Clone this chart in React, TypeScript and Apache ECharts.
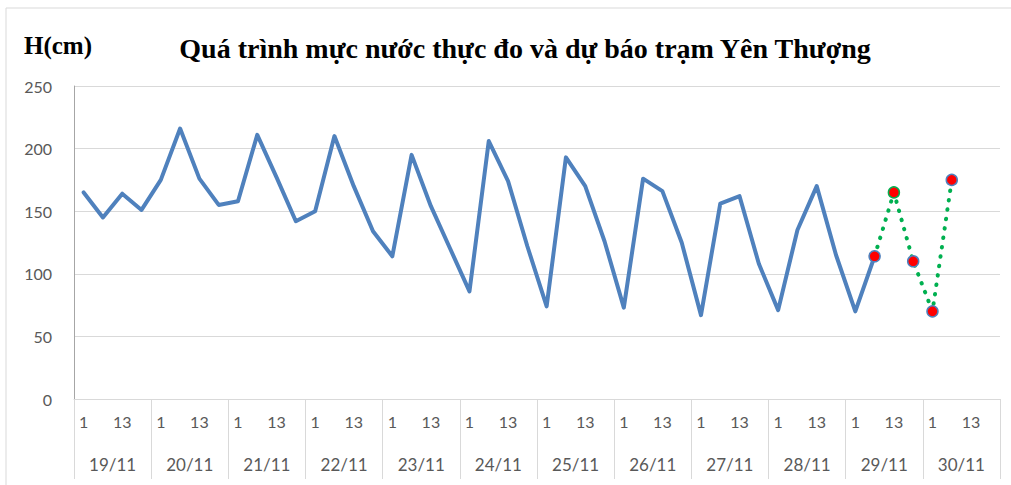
import React, { useEffect, useRef } from "react";
import * as echarts from "echarts";

const days = ["19/11", "20/11", "21/11", "22/11", "23/11", "24/11", "25/11", "26/11", "27/11", "28/11", "29/11", "30/11"];
const hours = ["1", "7", "13", "19"];
const observed = [
  165, 145, 164, 151,
  175, 216, 176, 155,
  158, 211, 177, 142,
  150, 210, 170, 134,
  114, 195, 154, 120,
  86, 206, 174, 122,
  74, 193, 170, 126,
  73, 176, 166, 125,
  67, 156, 162, 108,
  71, 135, 170, 115,
  70, 114,
];
const forecastStart = 41;
const forecast = [114, 165, 110, 70, 175];
const yTicks = [0, 50, 100, 150, 200, 250];
const titleText = "Quá trình mực nước thực đo và dự báo trạm Yên Thượng";
const yUnit = "H(cm)";

export default function App() {
  const ref = useRef<HTMLDivElement>(null);
  useEffect(() => {
    if (!ref.current) return;
    const chart = echarts.init(ref.current, undefined, { renderer: "svg" });
    const cats: string[] = [];
    days.forEach(() => hours.forEach((h) => cats.push(h)));
    const obsData = cats.map((_, i) => (i < observed.length ? observed[i] : null));
    const fcData = cats.map((_, i) => {
      const k = i - forecastStart;
      if (k < 0 || k >= forecast.length) return null;
      return {
        value: forecast[k],
        itemStyle: { color: "#ff0000", borderColor: k === 1 ? "#00b050" : "#4f81bd", borderWidth: 1.5 },
      };
    });
    const labelFont = { fontFamily: "Lato, 'Open Sans', sans-serif", fontSize: 16, color: "#595959" };
    chart.setOption({
      animation: false,
      grid: { left: 74, right: 11, top: 86, bottom: 86 },
      graphic: [
        { type: "rect", shape: { x: 6, y: 8, width: 1100, height: 600 }, style: { fill: "none", stroke: "#d9d9d9", lineWidth: 1 }, silent: true },
        { type: "text", x: 24, y: 45, style: { text: yUnit, font: "bold 25px 'Liberation Serif', serif", fill: "#000", textVerticalAlign: "middle" } },
        { type: "text", x: 525, y: 48, style: { text: titleText, font: "bold 28px 'Liberation Serif', serif", fill: "#000", textAlign: "center", textVerticalAlign: "middle" } },
      ],
      xAxis: [
        {
          type: "category",
          data: cats,
          boundaryGap: true,
          axisLine: { lineStyle: { color: "#d9d9d9", width: 1 } },
          axisTick: { show: true, length: 80, interval: (i: number) => i % 4 === 0, lineStyle: { color: "#d9d9d9" } },
          axisLabel: { ...labelFont, margin: 14, interval: (i: number) => i % 4 === 0 || i % 4 === 2 },
        },
        {
          type: "category",
          data: days,
          position: "bottom",
          boundaryGap: true,
          axisLine: { show: false },
          axisTick: { show: false },
          axisLabel: { ...labelFont, fontSize: 17, margin: 57, interval: 0 },
        },
      ],
      yAxis: {
        type: "value",
        min: yTicks[0],
        max: yTicks[yTicks.length - 1],
        interval: 50,
        axisLine: { show: true, lineStyle: { color: "#a6a6a6" } },
        axisTick: { show: false },
        axisLabel: { ...labelFont, margin: 22 },
        splitLine: { lineStyle: { color: "#d9d9d9", width: 1 } },
      },
      series: [
        {
          type: "line",
          data: obsData,
          xAxisIndex: 0,
          showSymbol: false,
          symbol: "none",
          lineStyle: { color: "#4f81bd", width: 4, join: "round", cap: "round" },
          z: 2,
        },
        {
          type: "line",
          data: fcData,
          xAxisIndex: 0,
          symbol: "circle",
          symbolSize: 11,
          showSymbol: true,
          lineStyle: { color: "#00b050", width: 4, type: [0.5, 9], cap: "round" },
          z: 3,
        },
      ],
    });
    return () => chart.dispose();
  }, []);
  return <div ref={ref} style={{ position: "fixed", left: 0, top: 0, width: 1011, height: 485, background: "#fff" }} />;
}
